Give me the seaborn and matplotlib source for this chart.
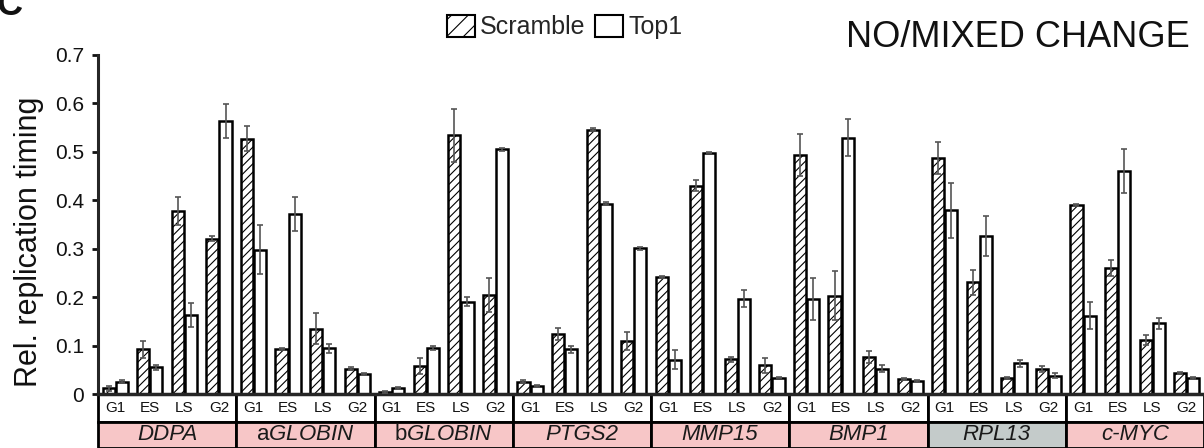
import numpy as np
import pandas as pd
import seaborn as sns
import matplotlib.pyplot as plt
from matplotlib.patches import Patch, Rectangle

# Data
genes = ['DDPA', 'aGLOBIN', 'bGLOBIN', 'PTGS2', 'MMP15', 'BMP1', 'RPL13', 'c-MYC']
gene_labels = ['DDPA', r'a$\mathit{GLOBIN}$', r'b$\mathit{GLOBIN}$',
               'PTGS2', 'MMP15', 'BMP1', 'RPL13', 'c-MYC']
gene_colors = ['#f7c6c7', '#f7c6c7', '#f7c6c7', '#f7c6c7',
               '#f7c6c7', '#f7c6c7', '#c4cbca', '#f7c6c7']
phases = ['G1', 'ES', 'LS', 'G2']
conditions = ['Scramble', 'Top1']

scramble = [0.012, 0.092, 0.378, 0.321,
            0.527, 0.092, 0.135, 0.052,
            0.005, 0.058, 0.534, 0.205,
            0.025, 0.124, 0.546, 0.109,
            0.242, 0.430, 0.072, 0.059,
            0.494, 0.203, 0.076, 0.031,
            0.487, 0.231, 0.034, 0.052,
            0.390, 0.260, 0.112, 0.043]
scramble_err = [0.005, 0.017, 0.029, 0.006,
                0.026, 0.002, 0.032, 0.003,
                0.002, 0.017, 0.055, 0.035,
                0.003, 0.012, 0.003, 0.018,
                0.002, 0.011, 0.005, 0.016,
                0.043, 0.051, 0.012, 0.003,
                0.033, 0.026, 0.002, 0.006,
                0.002, 0.016, 0.010, 0.002]
top1 = [0.025, 0.055, 0.163, 0.564,
        0.298, 0.372, 0.094, 0.041,
        0.012, 0.095, 0.191, 0.505,
        0.017, 0.092, 0.393, 0.301,
        0.071, 0.498, 0.197, 0.034,
        0.196, 0.529, 0.052, 0.027,
        0.379, 0.326, 0.063, 0.038,
        0.162, 0.460, 0.146, 0.034]
top1_err = [0.003, 0.005, 0.024, 0.035,
            0.050, 0.035, 0.009, 0.002,
            0.002, 0.005, 0.010, 0.003,
            0.002, 0.007, 0.003, 0.003,
            0.020, 0.001, 0.017, 0.001,
            0.043, 0.038, 0.007, 0.002,
            0.057, 0.041, 0.007, 0.005,
            0.028, 0.045, 0.011, 0.002]

ytick_values = [0, 0.1, 0.2, 0.3, 0.4, 0.5, 0.6, 0.7]
ytick_labels = ['0', '0.1', '0.2', '0.3', '0.4', '0.5', '0.6', '0.7']

# Style
sns.set_style('ticks')
plt.rcParams['font.family'] = ['Liberation Sans', 'DejaVu Sans']
plt.rcParams['mathtext.fontset'] = 'custom'
plt.rcParams['mathtext.rm'] = 'Liberation Sans'
plt.rcParams['mathtext.it'] = 'Liberation Sans:italic'
plt.rcParams['mathtext.bf'] = 'Liberation Sans:bold'
plt.rcParams['hatch.linewidth'] = 0.8

# Long-format table
slots = [f'{g} {p}' for g in genes for p in phases]
df = pd.DataFrame({
    'slot': slots * 2,
    'condition': ['Scramble'] * len(slots) + ['Top1'] * len(slots),
    'value': scramble + top1,
})
errors = {'Scramble': scramble_err, 'Top1': top1_err}

fig = plt.figure(figsize=(12.04, 4.48), dpi=100)
ax = fig.add_axes([98 / 1204, 54 / 448, 1106 / 1204, 339 / 448])

sns.barplot(data=df, x='slot', y='value', hue='condition',
            order=slots, hue_order=conditions,
            palette={'Scramble': 'white', 'Top1': 'white'},
            edgecolor='black', linewidth=1.8, width=0.76, gap=0.08,
            saturation=1, errorbar=None, legend=False, ax=ax)

for container, cond in zip(ax.containers, conditions):
    xs, hs = [], []
    for bar in container:
        if cond == 'Scramble':
            bar.set_hatch('////')
        xs.append(bar.get_x() + bar.get_width() / 2)
        hs.append(bar.get_height())
    ax.errorbar(xs, hs, yerr=errors[cond], fmt='none', ecolor='#555555',
                elinewidth=1.2, capsize=2, capthick=1.2, zorder=4)

ax.set_xlim(-0.5, len(slots) - 0.5)
ax.set_ylim(0, 0.7)
ax.set_yticks(ytick_values)
ax.set_yticklabels(ytick_labels)
ax.set_xticks(range(len(slots)))
ax.set_xticklabels(phases * len(genes))
ax.tick_params(axis='x', length=0, pad=5, labelsize=11, labelcolor='#111111')
ax.tick_params(axis='y', length=4, width=2, pad=6, labelsize=15,
               colors='#111111')
ax.set_xlabel('')
ax.set_ylabel('Rel. replication timing', fontsize=22, color='#111111')
ax.yaxis.set_label_coords(-0.049, 0.45)

sns.despine(ax=ax)
ax.spines['left'].set_linewidth(2.2)
ax.spines['bottom'].set_linewidth(2.5)

# Phase / gene strips under the axis (drawn beneath the tick labels)
trans = ax.get_xaxis_transform()
row1 = 28 / 339
row2 = 26 / 339
for i, (lab, col) in enumerate(zip(gene_labels, gene_colors)):
    x0 = i * len(phases) - 0.5
    ax.add_patch(Rectangle((x0, -row1), len(phases), row1, transform=trans,
                           facecolor='white', edgecolor='black', lw=2,
                           clip_on=False, zorder=0.1))
    ax.add_patch(Rectangle((x0, -row1 - row2), len(phases), row2, transform=trans,
                           facecolor=col, edgecolor='black', lw=2,
                           clip_on=False, zorder=0.1))
    style = 'normal' if '$' in lab else 'italic'
    ax.text(x0 + len(phases) / 2, -row1 - row2 / 2 + 0.002, lab, transform=trans,
            ha='center', va='center', fontsize=16, fontstyle=style,
            color='#1a1a1a')

# Legend and headings
handles = [Patch(facecolor='white', edgecolor='black', hatch='//', lw=1.5, label='Scramble'),
           Patch(facecolor='white', edgecolor='black', lw=1.5, label='Top1')]
fig.legend(handles=handles, loc='center', bbox_to_anchor=(0.469, 0.94),
           ncol=2, frameon=False, fontsize=18, handlelength=1.12,
           handleheight=1.0, handletextpad=0.2, columnspacing=0.4,
           borderpad=0, borderaxespad=0)
fig.text(0.988, 1 - 47 / 448, 'NO/MIXED CHANGE', ha='right', va='baseline',
         fontsize=26, color='#111111')
fig.text(-0.003, 1 - 15 / 448, 'C', ha='left', va='baseline',
         fontsize=26, fontweight='bold', color='#111111')

fig.savefig('out.png', dpi=100, facecolor='white')
